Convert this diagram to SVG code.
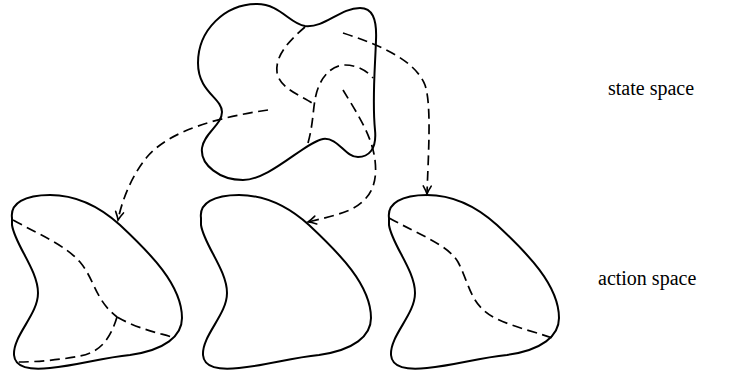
<svg xmlns="http://www.w3.org/2000/svg" width="732" height="376" viewBox="0 0 732 376">
<style>
.solid{fill:none;stroke:#000;stroke-width:2;stroke-linejoin:round}
.dash{fill:none;stroke:#000;stroke-width:1.7;stroke-dasharray:10,5.5}
.lbl{font-family:"Liberation Serif","Times New Roman",serif;font-size:20px;fill:#000}
</style>
<defs>
<marker id="arr" markerUnits="userSpaceOnUse" markerWidth="14" markerHeight="14" refX="0" refY="0" viewBox="-10 -7 14 14" orient="auto" overflow="visible">
<path d="M -8,-4 Q -3,-1 0,0 Q -3,1 -8,4" fill="none" stroke="#000" stroke-width="1.6" stroke-linecap="round"/>
</marker>
<path id="act" d="M 12,218 C 10,203 25,195 50,195 C 78,195 100,207 120,225 C 150,253 182,285 182,318 C 182,336 165,350 130,355 C 100,358 80,365 50,368 C 30,370 15,368 14,355 C 13,335 38,315 38,293 C 38,270 15,245 12,225 Z"/>
</defs>
<g id="state-space">
<path class="solid" d="M 305,26 C 325,28 340,8 360,8 C 372,8 377,18 376,40 C 375,70 372,100 375,130 C 377,150 368,157 358,157 C 345,157 338,137 323,139 C 305,142 270,180 243,180 C 220,180 200,165 202,148 C 204,133 222,125 222,112 C 222,98 198,92 198,63 C 198,30 225,4 257,4 C 280,4 290,24 305,26 Z"/>
<path class="dash" d="M 305,27 C 290,40 275,55 277,72 C 279,88 300,95 312,103"/>
<path class="dash" d="M 308,143 C 313,125 313,110 315,100 C 318,80 330,65 345,65 C 358,65 368,72 373,78"/>
<text class="lbl" x="608" y="95">state space</text>
</g>
<g id="action-1">
<use href="#act" class="solid"/>
<path class="dash" d="M 13,220 C 40,235 65,245 80,262 C 95,280 95,300 117,317"/>
<path class="dash" d="M 117,317 C 140,330 160,333 175,338"/>
<path class="dash" d="M 117,317 C 110,340 100,352 80,356 C 60,360 35,362 17,362"/>
</g>
<g id="action-2">
<use href="#act" class="solid" transform="translate(189,0)"/>
</g>
<g id="action-3">
<use href="#act" class="solid" transform="translate(377,0)"/>
<path class="dash" d="M 389,218 C 420,235 448,245 458,262 C 470,285 470,305 495,318 C 515,328 540,333 555,339"/>
<text class="lbl" x="598" y="285">action space</text>
</g>
<g id="connectors">
<path class="dash" marker-end="url(#arr)" d="M 268,110 C 220,117 170,130 147,157 C 132,175 122,200 118,220"/>
<path class="dash" marker-end="url(#arr)" d="M 343,90 C 355,110 372,135 375,160 C 378,185 370,200 350,210 C 335,216 320,219 308,222"/>
<path class="dash" marker-end="url(#arr)" d="M 343,33 C 380,45 415,60 425,85 C 432,105 428,160 427,194"/>
</g>
</svg>
